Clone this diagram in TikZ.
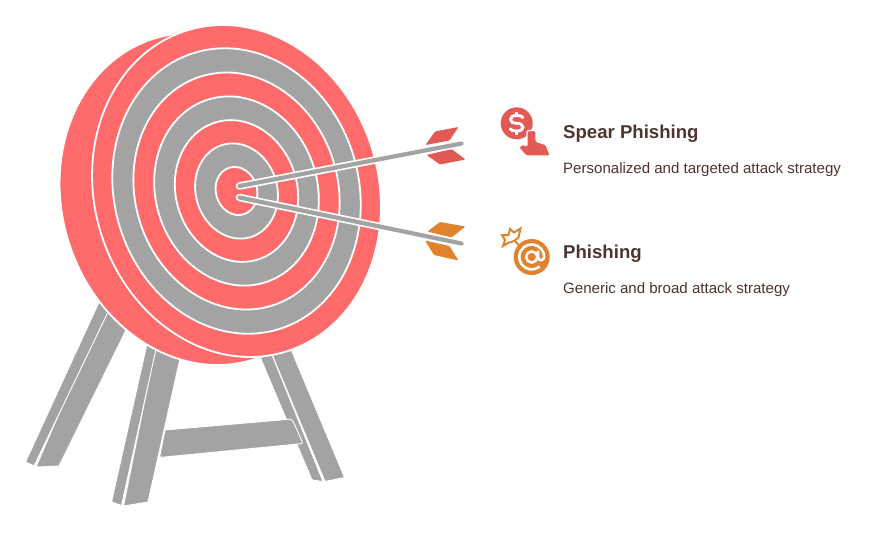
\documentclass[tikz,border=0pt]{standalone}
\usepackage{fontspec}
\setmainfont{Liberation Sans}
\definecolor{targetred}{HTML}{FF6B6B}
\definecolor{standgray}{HTML}{A3A3A3}
\definecolor{spearred}{HTML}{E25A55}
\definecolor{phishorange}{HTML}{E0822E}
\definecolor{textbrown}{HTML}{4E342E}
\tikzset{
  wood/.style={fill=standgray, draw=white, line width=0.9pt, line join=round},
  ring/.style={draw=white, line width=1.8pt},
  title/.style={anchor=base west, inner sep=0pt, text=textbrown, font=\fontsize{18.6}{22}\selectfont\bfseries},
  descr/.style={anchor=base west, inner sep=0pt, text=textbrown, font=\fontsize{15.05}{18}\selectfont},
}
\begin{document}
\begin{tikzpicture}[x=1pt,y=-1pt]
  \useasboundingbox (0,0) rectangle (874,538);
  % Legs of the stand
  \path[wood] (108,300) -- (130,322) -- (59,466) [rounded corners=1pt] -- (36,467) -- cycle;
  \path[wood] (100,300) -- (109,310) -- (34,466) [rounded corners=1pt] -- (25.5,462) -- cycle;
  \path[wood] (157,340) -- (183,345) -- (148,502) [rounded corners=1pt] -- (123.5,506) -- cycle;
  \path[wood] (149,335) -- (158,340) -- (121.5,505.5) [rounded corners=1pt] -- (111.5,502) -- cycle;
  \path[wood] (266,340) -- (285,335) -- (344.5,477.5) [rounded corners=1pt] -- (325,481.5) -- cycle;
  \path[wood] (255,345) -- (266,340) -- (323,481.5) [rounded corners=1pt] -- (312,480) -- cycle;
  \path[wood, rounded corners=2pt] (165,430) -- (292,419) -- (303,443.5) -- (159.5,457.5) [sharp corners] -- cycle;
  % Target
  \path[ring, fill=targetred, rotate around={17:(204,199)}] (204,199) ellipse [x radius=142, y radius=168];
  \foreach \k/\col in {1/targetred,.86/standgray,.714/targetred,.57/standgray,.427/targetred,.287/standgray,.145/targetred}
    \path[ring, fill=\col, rotate around={17:(236.5,191)}] (236.5,191) ellipse [x radius=142*\k, y radius=168*\k];
  % Arrow in the upper flight
  \fill[spearred, rounded corners=1pt] (425.5,145) -- (435,131.5) -- (458.5,127) -- (449.5,140.5) -- cycle;
  \fill[spearred, rounded corners=1pt] (451.5,149) -- (465.5,159.5) -- (440,164.5) -- (426.5,155) -- cycle;
  \coordinate (spearend) at (461.5,143.5);
  \coordinate (speartip) at (239.5,186);
  \draw[white, line width=7.5pt, line cap=round] (speartip) -- (spearend);
  \draw[standgray, line width=4.2pt, line cap=round] (speartip) -- (spearend);
  % Arrow in the lower flight
  \fill[phishorange, rounded corners=1pt] (427.5,231.5) -- (440,222) -- (465.5,226.5) -- (451.5,237.5) -- cycle;
  \fill[phishorange, rounded corners=1pt] (425,240.5) -- (449.5,246) -- (458.5,260.5) -- (434,255) -- cycle;
  \coordinate (phishend) at (461.5,243.5);
  \coordinate (phishtip) at (239.5,197.5);
  \draw[white, line width=7.5pt, line cap=round] (phishtip) -- (phishend);
  \draw[standgray, line width=4.2pt, line cap=round] (phishtip) -- (phishend);
  % Dollar icon
  \fill[spearred] (516.7,123.3) circle [radius=16];
  \draw[white, line width=2.9pt] (523.5,118) .. controls (522.5,116) and (519.5,115.5) .. (516.5,115.5) .. controls (512.5,115.5) and (510.5,117) .. (510.5,119.5) .. controls (510.5,122.5) and (513.5,123.3) .. (516.5,123.3) .. controls (520,123.3) and (523,124.5) .. (523,127.2) .. controls (523,129.8) and (520.5,131) .. (516.5,131) .. controls (513.5,131) and (511,130.5) .. (509.5,128.5);
  \draw[white, line width=2.6pt] (516.7,111.5) -- (516.7,115.5) (516.7,131) -- (516.7,135);
  \fill[spearred, draw=white, line width=1.2pt, rounded corners=1.5pt] (527,130.5) -- (536,130.5) -- (536,141.5) -- (546,144.5) -- (550.5,156) -- (526,156) -- (518.5,147.5) -- (523,144) -- (527,146.5) -- cycle;
  % At icon
  \fill[phishorange] (531.7,257) circle [radius=18];
  \draw[white, line width=2.6pt] (539.7,266.5) arc [start angle=50, end angle=360, radius=12.5] .. controls (544.2,261) and (538,261.5) .. (538,257) -- (538,250.5);
  \draw[white, line width=2.4pt] (531.7,257) circle [radius=5.6];
  \draw[phishorange, line width=2pt, line join=miter] (502,235) -- (508.5,235) -- (510,229) -- (514,232.5) -- (520.5,228.5) -- (518.5,237.5) -- (514,241) -- (508,243) -- (503,246) -- (505,240) -- cycle;
  \draw[phishorange, line width=2pt] (515,241) -- (521.5,248);
  % Labels
  \node[title] (speartitle) at (563,138) {Spear Phishing};
  \node[descr] (speardescr) at (563,173) {Personalized and targeted attack strategy};
  \node[title] (phishtitle) at (563,258) {Phishing};
  \node[descr] (phishdescr) at (563,293) {Generic and broad attack strategy};
\end{tikzpicture}
\end{document}
